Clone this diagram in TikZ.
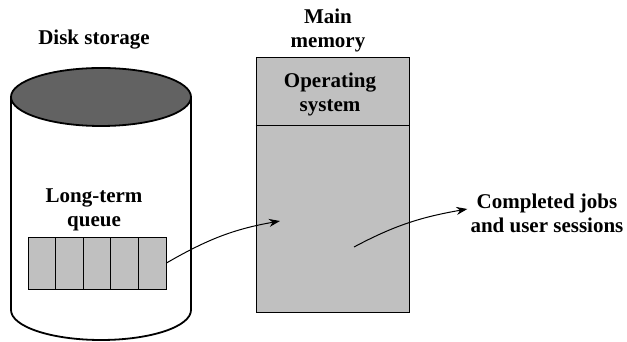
\documentclass[tikz,border=0pt]{standalone}
\usepackage{fontspec}
\setmainfont{Liberation Serif}
\usetikzlibrary{positioning,arrows.meta}
\definecolor{qgray}{HTML}{C0C0C0}
\definecolor{dtop}{HTML}{626262}
\tikzset{
  lbl/.style={font=\fontsize{21}{24}\selectfont\bfseries, align=center, inner sep=0pt},
  cell/.style={draw, fill=qgray, line width=0.9pt, minimum width=27.6pt,
               minimum height=52pt, inner sep=0pt},
  mem/.style={draw, fill=qgray, line width=1pt, minimum width=153pt,
              minimum height=255pt, inner sep=0pt},
  disk/.style={line width=1.8pt},
  flow/.style={-{Stealth[length=11pt,width=8pt]}, line width=1pt}
}
\begin{document}
\begin{tikzpicture}[x=1pt,y=1pt]
\useasboundingbox (0,0) rectangle (627,342);
% disk
\draw[disk] (11,245) -- (11,32) arc[start angle=180, end angle=360, x radius=90pt, y radius=30pt] -- (191,245);
\draw[disk, fill=dtop] (101,245) ellipse[x radius=90pt, y radius=29pt];
\node[lbl] (dlbl) at (94,302) {Disk storage};
\node[lbl] (qlbl) at (94,132) {Long-term\\queue};
\foreach \i in {1,...,5}
  \node[cell] (q\i) at (41.8+27.6*\i-27.6,79) {};
% memory
\node[mem] (mm) at (332.5,156.5) {};
\draw[line width=1pt] (mm.west |- 0,216) -- (mm.east |- 0,216);
\node[lbl] (mlbl) at (328,312) {Main\\memory};
\node[lbl] (os) at (330,248) {Operating\\system};
\node[lbl] (done) at (547,129) {Completed jobs\\and user sessions};
\coordinate (jin) at (280,121);
\coordinate (jout) at (354,95);
\draw[flow] (q5.east) to[out=30, in=190] (jin);
\draw[flow] (jout) to[out=28, in=190] ([shift={(-3pt,4pt)}]done.west);
\end{tikzpicture}
\end{document}
